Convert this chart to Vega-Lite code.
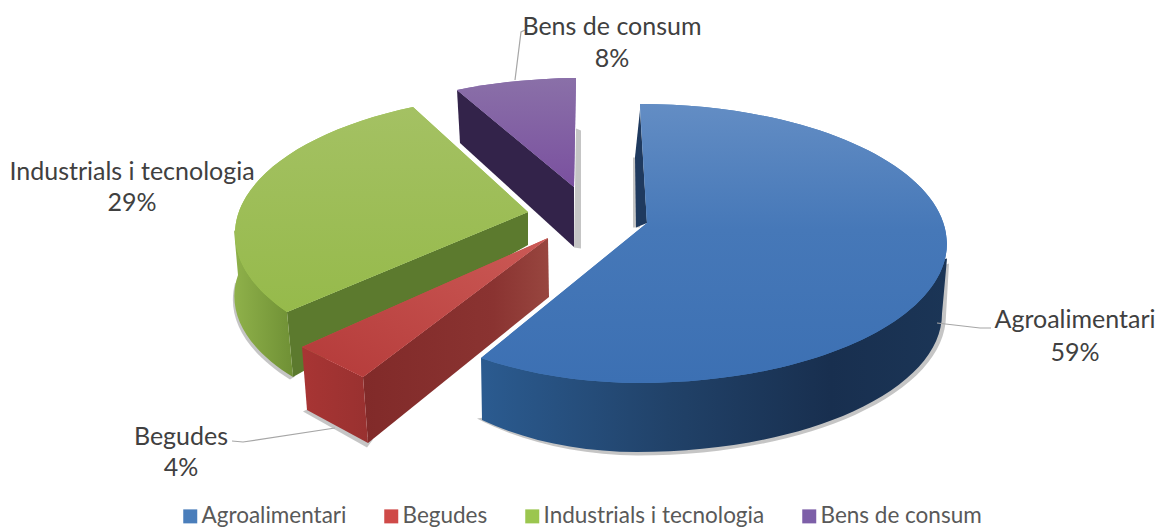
{
"$schema":"https://vega.github.io/schema/vega-lite/v6.json",
"width":1160,"height":527,"padding":0,"autosize":{"type":"none"},"background":"white",
"config":{"view":{"stroke":null},"font":"Lato"},
"data":{"values":[
{"name":"Bens de consum","share":8},
{"name":"Industrials i tecnologia","share":29},
{"name":"Begudes","share":4},
{"name":"Agroalimentari","share":59}
]},
"transform":[{"calculate":"datum.name + '\\n' + datum.share + '%'","as":"label"}],
"layer":[
{"mark":{"type":"point","filled":true,"size":4,"opacity":0.45,"fill":"#7f7f7f","strokeWidth":0},
 "encoding":{"shape":{"field":"name","type":"nominal","legend":null,"scale":{
 "domain":["Bens de consum","Industrials i tecnologia","Begudes","Agroalimentari"],
 "range":["M-4,-135 L1,-133 L1,-15 L-6,-16 Z","M-345,20 A300,136 0 0 0 -290,116 L-285,113 L-340,15 Z","M-273,146 L-277,148 L-213,184 L-207,176 Z","M-96,154 L-103,155 A242,138 0 0 0 57,192 A308,140 0 0 0 366,52 L369,0 Z M53,-106 L53,-36 L60,-36 L60,-106 Z"]}}}},
{"mark":{"type":"point","filled":true,"size":4,"opacity":1,"strokeWidth":0},
 "encoding":{"shape":{"field":"name","type":"nominal","legend":null,"scale":{
 "domain":["Bens de consum","Industrials i tecnologia","Begudes","Agroalimentari"],
 "range":["M-123,-173.5 L-6,-76.5 L-6,-16.5 L-120,-120.5 Z","M-293,48.5 L-52,-51.5 L-52,-18.5 L-287,113.5 Z","M-217,113.5 L-32,-25.5 L-31,33.5 L-212,179.5 Z","M60,-153.5 L55,-106.5 L56,-36 L67,-40.5 Z"]}},
 "fill":{"condition":[
  {"test":"datum.name === 'Bens de consum'","value":"#33234a"},
  {"test":"datum.name === 'Industrials i tecnologia'","value":"#5c7a2e"},
  {"test":"datum.name === 'Begudes'","value":{"gradient":"linear","x1":0,"y1":0,"x2":1,"y2":0,"stops":[{"offset":0,"color":"#812a29"},{"offset":0.7,"color":"#8a3331"},{"offset":1,"color":"#98463f"}]}}
  ],"value":"#1f3a5f"}}},
{"transform":[{"filter":"datum.name !== 'Bens de consum'"}],
 "mark":{"type":"point","filled":true,"size":4,"opacity":1,"strokeWidth":0},
 "encoding":{"shape":{"field":"name","type":"nominal","legend":null,"scale":{
 "domain":["Industrials i tecnologia","Begudes","Agroalimentari"],
 "range":["M-346,-33.5 L-342,11.5 A300,136 0 0 0 -287,113.5 L-293,48.5 Z","M-278,83.5 L-217,113.5 L-212,179.5 L-273,146.5 Z","M-99,94.5 L-98,156.5 A242,138 0 0 0 57,188.5 A305,138 0 0 0 362,50 L367,-5 Z"]}},
 "fill":{"condition":[
  {"test":"datum.name === 'Industrials i tecnologia'","value":{"gradient":"linear","x1":0,"y1":0,"x2":1,"y2":0,"stops":[{"offset":0,"color":"#8fb14a"},{"offset":1,"color":"#6f9035"}]}},
  {"test":"datum.name === 'Begudes'","value":{"gradient":"linear","x1":0,"y1":0,"x2":1,"y2":0,"stops":[{"offset":0,"color":"#a83534"},{"offset":1,"color":"#993130"}]}}
  ],"value":{"gradient":"linear","x1":0,"y1":0,"x2":1,"y2":0,"stops":[{"offset":0,"color":"#2b5b90"},{"offset":0.4,"color":"#214269"},{"offset":0.75,"color":"#182f4f"},{"offset":1,"color":"#1b3556"}]}}}},
{"mark":{"type":"point","filled":true,"size":4,"opacity":1,"strokeWidth":0},
 "encoding":{"shape":{"field":"name","type":"nominal","legend":null,"scale":{
 "domain":["Bens de consum","Industrials i tecnologia","Begudes","Agroalimentari"],
 "range":["M-123,-173.5 A307,140 0 0 1 -4,-185.5 L-6,-76.5 Z","M-167,-156.5 L-52,-51.5 L-293,48.5 A307,140 0 0 1 -167,-156.5 Z","M-278,83.5 L-217,113.5 L-32,-25.5 Z","M60,-159.5 A307,140 0 0 1 367,-20 A307,140 0 0 1 60,119.5 A279,140 0 0 1 -99,94.5 L67,-40.5 Z"]}},
 "color":{"field":"name","type":"nominal","scale":{
 "domain":["Agroalimentari","Begudes","Industrials i tecnologia","Bens de consum"],
 "range":["#4a7ebb","#cf4a48","#9bc64f","#7d5fa8"]},
 "legend":{"title":null,"orient":"none","legendX":179,"legendY":505,"direction":"horizontal","columns":4,"columnPadding":33,"symbolType":"square","symbolSize":196,"symbolStrokeWidth":0,"labelFontSize":22.5,"labelFont":"Lato","labelColor":"#595959","labelOffset":0,"labelLimit":300}}}},
{"mark":{"type":"point","filled":true,"size":4,"opacity":1,"strokeWidth":0},
 "encoding":{"shape":{"field":"name","type":"nominal","legend":null,"scale":{
 "domain":["Bens de consum","Industrials i tecnologia","Begudes","Agroalimentari"],
 "range":["M-123,-173.5 A307,140 0 0 1 -4,-185.5 L-6,-76.5 Z","M-167,-156.5 L-52,-51.5 L-293,48.5 A307,140 0 0 1 -167,-156.5 Z","M-278,83.5 L-217,113.5 L-32,-25.5 Z","M60,-159.5 A307,140 0 0 1 367,-20 A307,140 0 0 1 60,119.5 A279,140 0 0 1 -99,94.5 L67,-40.5 Z"]}},
 "fill":{"condition":[
  {"test":"datum.name === 'Bens de consum'","value":{"gradient":"linear","x1":0,"y1":0,"x2":0,"y2":1,"stops":[{"offset":0,"color":"#8a70a8"},{"offset":1,"color":"#7a509f"}]}},
  {"test":"datum.name === 'Industrials i tecnologia'","value":{"gradient":"linear","x1":0,"y1":0,"x2":0,"y2":1,"stops":[{"offset":0,"color":"#a4c163"},{"offset":1,"color":"#96ba4b"}]}},
  {"test":"datum.name === 'Begudes'","value":{"gradient":"linear","x1":1,"y1":0,"x2":0,"y2":1,"stops":[{"offset":0,"color":"#cc5a56"},{"offset":1,"color":"#b43a39"}]}}
  ],"value":{"gradient":"linear","x1":0,"y1":0,"x2":0,"y2":1,"stops":[{"offset":0,"color":"#638dc4"},{"offset":0.45,"color":"#4678b8"},{"offset":1,"color":"#3c70b3"}]}}}},
{"transform":[{"filter":"datum.name !== 'Industrials i tecnologia'"}],
 "mark":{"type":"point","filled":false,"size":4,"opacity":1,"stroke":"#a6a6a6","strokeWidth":1.2},
 "encoding":{"shape":{"field":"name","type":"nominal","legend":null,"scale":{
 "domain":["Bens de consum","Begudes","Agroalimentari"],
 "range":["M-65,-183.5 L-59,-231.5 L-55,-233.5","M-245,164.5 L-337,178.5 L-348,177.5","M357,59.5 L400,64.5 L411,64.5"]}}}},
{"transform":[{"filter":"datum.name === 'Agroalimentari'"}],"mark":{"type":"text","font":"Lato","fontSize":25,"fill":"#404040","align":"center","baseline":"alphabetic","lineBreak":"\n","lineHeight":33,"dx":495,"dy":64},"encoding":{"text":{"field":"label"}}},
{"transform":[{"filter":"datum.name === 'Begudes'"}],"mark":{"type":"text","font":"Lato","fontSize":25,"fill":"#404040","align":"center","baseline":"alphabetic","lineBreak":"\n","lineHeight":31,"dx":-399,"dy":181},"encoding":{"text":{"field":"label"}}},
{"transform":[{"filter":"datum.name === 'Industrials i tecnologia'"}],"mark":{"type":"text","font":"Lato","fontSize":25,"fill":"#404040","align":"center","baseline":"alphabetic","lineBreak":"\n","lineHeight":31,"dx":-448,"dy":-84},"encoding":{"text":{"field":"label"}}},
{"transform":[{"filter":"datum.name === 'Bens de consum'"}],"mark":{"type":"text","font":"Lato","fontSize":25,"fill":"#404040","align":"center","baseline":"alphabetic","lineBreak":"\n","lineHeight":32,"dx":32,"dy":-229},"encoding":{"text":{"field":"label"}}}
],
"resolve":{"scale":{"shape":"independent"}}
}
